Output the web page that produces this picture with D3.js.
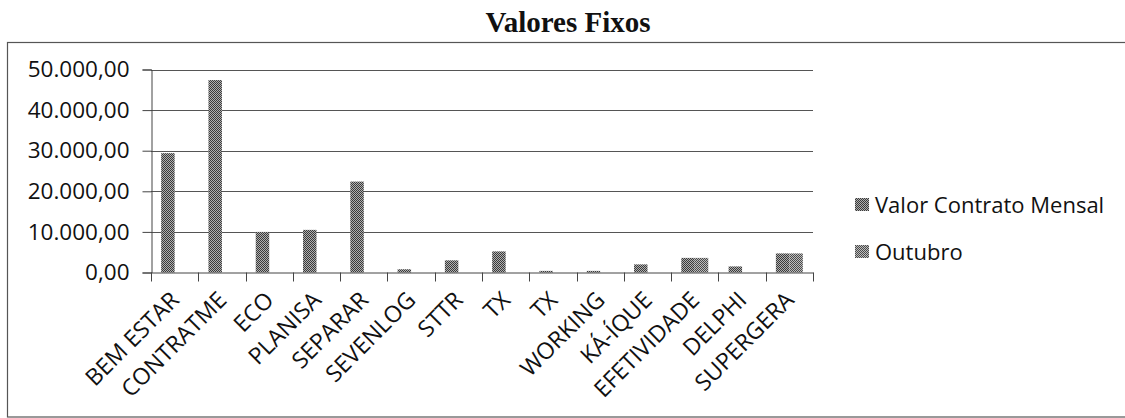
<!DOCTYPE html>
<html><head><meta charset="utf-8">
<script src="https://cdn.jsdelivr.net/npm/d3@7/dist/d3.min.js"></script>
<style>body{margin:0;background:#fff}svg{display:block}</style>
</head><body>
<svg id="c" width="1125" height="418"></svg>
<script>
const categories = ["BEM ESTAR","CONTRATME","ECO","PLANISA","SEPARAR","SEVENLOG","STTR","TX","TX","WORKING","KÁ-ÍQUE","EFETIVIDADE","DELPHI","SUPERGERA"];
const seriesNames = ["Valor Contrato Mensal","Outubro"];
const valorContratoMensal = [29400,47400,10000,10500,22400,800,3000,5200,400,400,2000,3600,1500,4700];
const outubro = [0,0,0,0,0,0,0,0,0,0,0,3600,0,4700];
const yTicks = [0,10000,20000,30000,40000,50000];
const title = "Valores Fixos";

(function(){
const svg = d3.select("#c");
const defs = svg.append("defs");
const pats = [["p0","#3a3a3a","#b0b0b0"],["p1","#4a4a4a","#bdbdbd"]];
pats.forEach(([id,a,b])=>{
  const p = defs.append("pattern").attr("id",id).attr("width",2).attr("height",2).attr("patternUnits","userSpaceOnUse");
  p.append("rect").attr("width",2).attr("height",2).attr("fill",b);
  p.append("rect").attr("width",1).attr("height",1).attr("fill",a);
  p.append("rect").attr("x",1).attr("y",1).attr("width",1).attr("height",1).attr("fill",a);
});

// frame
svg.append("rect").attr("x",7.5).attr("y",42.5).attr("width",1130).attr("height",374.5)
  .attr("fill","none").attr("stroke","#555").attr("stroke-width",1.2);

svg.append("text").attr("x",568).attr("y",32).attr("text-anchor","middle")
  .attr("font-family","'Liberation Serif','Times New Roman',serif").attr("font-weight","bold")
  .attr("font-size",29).attr("fill","#111").text(title);

const pLeft=151, pRight=813, pTop=69.5, pBottom=272.5;
const x = d3.scaleBand().domain(d3.range(categories.length)).range([pLeft,pRight]).padding(0);
const gap = x.bandwidth()*0.215;
const xs = d3.scaleBand().domain([0,1]).range([gap, x.bandwidth()-gap]).padding(0);
const y = d3.scaleLinear().domain([0,50000]).range([pBottom,pTop]);

const loc = d3.formatLocale({decimal:",",thousands:".",grouping:[3],currency:["R$",""]});
const fmt = loc.format(",.2f");

// gridlines
svg.append("g").selectAll("line").data(yTicks.filter(d=>d>0)).join("line")
  .attr("x1",pLeft).attr("x2",pRight).attr("y1",d=>Math.round(y(d))+0.5).attr("y2",d=>Math.round(y(d))+0.5)
  .attr("stroke","#555").attr("stroke-width",1);

const font = "'Open Sans',sans-serif";
const yAxis = svg.append("g").attr("transform",`translate(${pLeft+0.5},0)`)
  .call(d3.axisLeft(y).tickValues(yTicks).tickFormat(fmt).tickSize(9).tickPadding(13));
yAxis.selectAll("text").attr("font-family",font).attr("font-size",22.5).attr("fill","#111");
yAxis.selectAll("line,path").attr("stroke","#444");

// bars
const series = [valorContratoMensal, outubro];
series.forEach((vals,si)=>{
  svg.append("g").selectAll("rect").data(vals.map((v,i)=>({v,i})).filter(d=>d.v>0)).join("rect")
    .attr("x",d=>x(d.i)+xs(si)).attr("width",xs.bandwidth())
    .attr("y",d=>y(d.v)).attr("height",d=>pBottom-y(d.v))
    .attr("fill",`url(#p${si})`);
});

// x axis
const xAxis = svg.append("g").attr("transform",`translate(0,${pBottom})`)
  .call(d3.axisBottom(x).tickValues([]).tickSizeOuter(0));
xAxis.select("path").attr("stroke","#444");
svg.append("g").selectAll("line").data(d3.range(categories.length+1)).join("line")
  .attr("x1",i=>Math.round(pLeft+i*x.step())+0.5).attr("x2",i=>Math.round(pLeft+i*x.step())+0.5)
  .attr("y1",pBottom).attr("y2",pBottom+9).attr("stroke","#444");

svg.append("g").selectAll("text").data(categories).join("text")
  .attr("transform",(d,i)=>`translate(${x(i)+x.bandwidth()/2+6},${pBottom+29}) rotate(-45)`)
  .attr("text-anchor","end").attr("font-family",font).attr("font-size",23).attr("fill","#111")
  .text(d=>d);

// legend
const lg = svg.append("g");
seriesNames.forEach((n,i)=>{
  const cy = 205 + i*47;
  lg.append("rect").attr("x",855).attr("y",cy-7).attr("width",14).attr("height",13).attr("fill",`url(#p${i})`);
  lg.append("text").attr("x",875).attr("y",cy+8).attr("font-family",font).attr("font-size",22).attr("fill","#111").text(n);
});
})();
</script>
</body></html>
